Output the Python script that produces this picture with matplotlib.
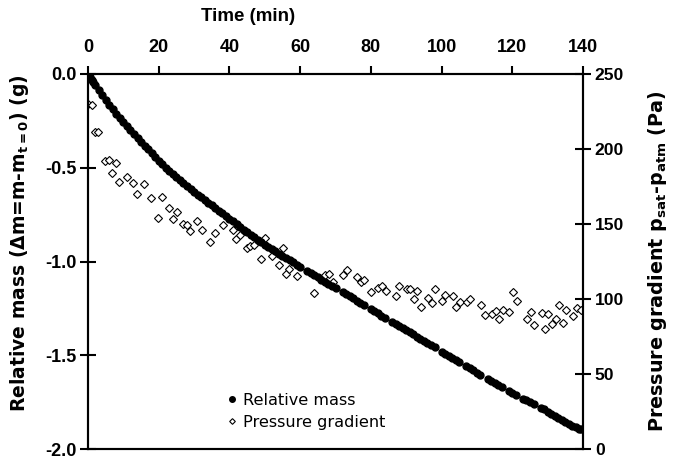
import matplotlib
matplotlib.use("Agg")
import matplotlib.pyplot as plt

plt.rcParams['font.family'] = ['Liberation Sans', 'DejaVu Sans']
plt.rcParams['mathtext.fontset'] = 'dejavusans'

# Relative mass (g) vs time (min)
mass_time = [0, 0.5, 1, 1.5, 2, 3, 4, 5, 6, 7, 8, 9, 10, 11, 12, 13, 14, 15, 16, 17,
             18, 19, 20, 21, 22, 23, 24, 25, 26, 27, 28, 29, 30, 31, 32, 33, 34, 35,
             36, 37, 38, 39, 40, 41, 42, 43, 44, 45, 46, 47, 48, 49, 50, 51, 52, 53,
             54, 55, 56, 57, 58, 59, 60, 62, 63, 64, 65, 66, 67, 68, 69, 70, 72, 73,
             74, 75, 76, 77, 78, 80, 81, 82, 83, 84, 86, 87, 88, 89, 90, 91, 92, 93,
             94, 95, 96, 97, 98, 100, 101, 102, 103, 104, 105, 107, 108, 109, 110,
             111, 113, 114, 115, 116, 117, 119, 120, 121, 123, 124, 125, 126, 128,
             129, 130, 131, 132, 133, 134, 135, 136, 137, 138, 139, 139.5]
mass = [0.000, -0.015, -0.030, -0.044, -0.058, -0.085, -0.112, -0.138, -0.163, -0.188,
        -0.212, -0.236, -0.257, -0.278, -0.299, -0.320, -0.341, -0.362, -0.382, -0.402,
        -0.422, -0.442, -0.462, -0.481, -0.500, -0.518, -0.535, -0.551, -0.567, -0.583,
        -0.598, -0.613, -0.628, -0.643, -0.658, -0.672, -0.687, -0.701, -0.715, -0.729,
        -0.743, -0.757, -0.771, -0.786, -0.801, -0.816, -0.831, -0.845, -0.858, -0.871,
        -0.884, -0.897, -0.910, -0.922, -0.934, -0.946, -0.958, -0.970, -0.982, -0.994,
        -1.005, -1.016, -1.027, -1.049, -1.060, -1.072, -1.084, -1.096, -1.108, -1.119,
        -1.130, -1.141, -1.163, -1.174, -1.186, -1.197, -1.209, -1.220, -1.231, -1.253,
        -1.264, -1.275, -1.292, -1.303, -1.324, -1.334, -1.345, -1.356, -1.367, -1.378,
        -1.389, -1.401, -1.412, -1.423, -1.435, -1.446, -1.458, -1.482, -1.493, -1.504,
        -1.515, -1.527, -1.538, -1.558, -1.568, -1.580, -1.592, -1.603, -1.627, -1.638,
        -1.649, -1.659, -1.669, -1.690, -1.700, -1.710, -1.731, -1.741, -1.751, -1.760,
        -1.779, -1.789, -1.800, -1.812, -1.823, -1.834, -1.844, -1.855, -1.865, -1.875,
        -1.884, -1.891, -1.893]

# Pressure gradient (Pa) vs time (min)
press_time = [0.0, 1.1, 2.0, 2.9, 4.8, 5.9, 6.9, 7.8, 8.9, 10.9, 12.8, 13.9, 15.9, 17.8,
              19.9, 20.8, 22.9, 24.0, 25.1, 27.0, 28.1, 28.8, 30.9, 32.1, 34.6, 35.9,
              38.1, 40.9, 41.9, 43.0, 44.9, 45.8, 47.0, 48.9, 50.0, 51.9, 54.0, 55.1,
              56.0, 56.9, 59.0, 64.0, 67.1, 68.2, 69.2, 72.0, 73.2, 76.2, 77.1, 78.1,
              80.0, 82.1, 83.2, 84.2, 87.1, 88.0, 90.3, 91.2, 92.2, 93.1, 94.2, 96.2,
              97.2, 98.1, 100.2, 101.1, 103.1, 104.2, 105.2, 107.1, 108.0, 111.1, 112.3,
              114.2, 115.4, 116.2, 117.4, 119.1, 120.3, 121.2, 124.2, 125.3, 126.2,
              128.3, 129.2, 130.2, 131.3, 132.3, 133.3, 134.2, 135.2, 137.3, 138.2, 139.3]
pressure = [230, 229, 211, 211.5, 192, 192.5, 184, 190.5, 178, 181, 177, 170, 176.5,
            167.5, 154, 168, 160.5, 153.5, 158, 150, 149, 145.5, 152, 146, 138, 144,
            149.5, 146, 140, 142.5, 134, 135.5, 136, 127, 140.5, 128.5, 122.5, 134, 117,
            120, 115.5, 104, 116, 117, 111.5, 116, 119.5, 114.5, 111.5, 112.5, 104.5,
            107.5, 109, 105.5, 102, 108.5, 107, 107, 100, 105.5, 94.5, 101, 97.5, 106.5,
            99, 102.5, 102, 95, 98, 98, 100, 96, 89.5, 90, 92, 86.5, 92.5, 91.5, 105,
            99, 86.5, 91.5, 83, 90.5, 80, 90, 83.5, 87, 96, 84, 93, 89, 94, 92.5]

x_ticks = [0, 20, 40, 60, 80, 100, 120, 140]
mass_ticks = [0.0, -0.5, -1.0, -1.5, -2.0]
press_ticks = [0, 50, 100, 150, 200, 250]

fig = plt.figure(figsize=(6.74, 4.61), dpi=100)
ax = fig.add_axes([0.1306, 0.026, 0.7344, 0.8135])
ax2 = ax.twinx()

ax.plot(mass_time, mass, 'o', color='black', markersize=5.0, linestyle='none',
        label='Relative mass', zorder=3)
ax2.plot(press_time, pressure, 'D', markerfacecolor='white', markeredgecolor='black',
         markeredgewidth=0.8, markersize=3.6, linestyle='none', label='Pressure gradient')

ax.set_xlim(0, 140)
ax.set_ylim(-2.0, 0.0)
ax2.set_ylim(0, 250)
ax.set_zorder(ax2.get_zorder() + 1)
ax.patch.set_visible(False)

ax.xaxis.tick_top()
ax.xaxis.set_label_position('top')
ax.set_xticks(x_ticks)
ax.set_xticklabels([str(v) for v in x_ticks], fontweight='bold', fontsize=13)
ax.set_yticks(mass_ticks)
ax.set_yticklabels(['%.1f' % v for v in mass_ticks], fontweight='bold', fontsize=13)
ax2.set_yticks(press_ticks)
ax2.set_yticklabels([str(v) for v in press_ticks], fontweight='bold', fontsize=12.6)

for a in (ax, ax2):
    for s in a.spines.values():
        s.set_linewidth(1.5)
ax.tick_params(axis='x', direction='out', length=6, width=1.5, pad=7)
ax.tick_params(axis='y', direction='inout', length=11, width=1.5, pad=3)
ax2.tick_params(axis='y', direction='inout', length=11, width=1.5, pad=3)

ax.set_xlabel('Time (min)', fontsize=13.5, fontweight='bold')
ax.xaxis.set_label_coords(0.323, 1.141)
ax.set_ylabel(r'Relative mass (Δm=m-m$_{\mathbf{t{=}0}}$) (g)',
              fontsize=13.5, fontweight='bold', family='DejaVu Sans')
ax.yaxis.set_label_coords(-0.116, 0.55)
ax2.set_ylabel(r'Pressure gradient p$_{\mathbf{sat}}$-p$_{\mathbf{atm}}$ (Pa)',
               fontsize=13.8, fontweight='bold', family='DejaVu Sans', labelpad=16)

h1, l1 = ax.get_legend_handles_labels()
h2, l2 = ax2.get_legend_handles_labels()
ax.legend(h1 + h2, l1 + l2, loc='lower left', bbox_to_anchor=(0.252, 0.012),
          frameon=False, prop={'family': 'DejaVu Sans', 'size': 11.6},
          handlelength=0.6, handletextpad=0.4, labelspacing=0.45, markerscale=0.8)

fig.savefig('out.png', dpi=100)
